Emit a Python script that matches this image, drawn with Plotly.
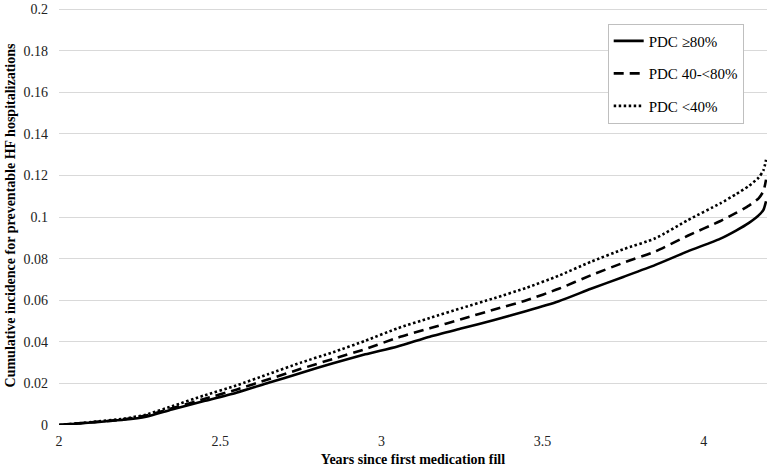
import plotly.graph_objects as go

# Years since first medication fill
years = [2.0, 2.1, 2.2, 2.27, 2.35, 2.45, 2.55, 2.65, 2.75, 2.85, 2.95, 3.05, 3.15,
         3.25, 3.35, 3.45, 3.55, 3.65, 3.75, 3.85, 3.95, 4.05, 4.1, 4.14, 4.17,
         4.185, 4.193]

pdc_high = [0, 0.0012, 0.0025, 0.004, 0.0075, 0.0115, 0.0155, 0.0203, 0.025, 0.0297,
            0.034, 0.0378, 0.0425, 0.0465, 0.0505, 0.0548, 0.0595, 0.0655, 0.0712,
            0.077, 0.0835, 0.0895, 0.0935, 0.0972, 0.1008, 0.1035, 0.1076]

pdc_mid = [0, 0.0013, 0.0027, 0.0045, 0.008, 0.0125, 0.017, 0.022, 0.027, 0.0318,
           0.0365, 0.042, 0.0465, 0.051, 0.0555, 0.060, 0.0655, 0.072, 0.078,
           0.0835, 0.091, 0.098, 0.102, 0.1055, 0.109, 0.1125, 0.118]

pdc_low = [0, 0.0014, 0.003, 0.005, 0.009, 0.0142, 0.019, 0.0245, 0.030, 0.035,
           0.0405, 0.0465, 0.0515, 0.0563, 0.061, 0.066, 0.0718, 0.0785, 0.0845,
           0.0898, 0.0985, 0.1065, 0.111, 0.115, 0.119, 0.1225, 0.1275]

series_names = ["PDC \u226580%", "PDC 40-<80%", "PDC <40%"]

y_tickvals = [0, 0.02, 0.04, 0.06, 0.08, 0.1, 0.12, 0.14, 0.16, 0.18, 0.2]
y_ticktext = ["0", "0.02", "0.04", "0.06", "0.08", "0.1", "0.12", "0.14", "0.16", "0.18", "0.2"]
x_tickvals = [2, 2.5, 3, 3.5, 4]
x_ticktext = ["2", "2.5", "3", "3.5", "4"]

FONT = "Liberation Serif, Times New Roman, serif"

fig = go.Figure()
for name, vals, dash, grp in [
    (series_names[0], pdc_high, "solid", "a"),
    (series_names[1], pdc_mid, "10px,6px", "b"),
    (series_names[2], pdc_low, "2.5px,2.5px", "c"),
]:
    fig.add_trace(go.Scatter(
        x=years, y=vals, mode="lines", name=name, legendgroup=grp,
        line=dict(color="black", width=2.6, dash=dash, shape="spline", smoothing=0.6),
    ))

fig.update_layout(
    width=769, height=467,
    margin=dict(l=59, r=2, t=3, b=40),
    plot_bgcolor="white", paper_bgcolor="white",
    font=dict(family=FONT, size=14, color="black"),
    showlegend=True,
    legend=dict(
        x=0.775, y=0.958, xanchor="left", yanchor="top",
        bordercolor="#bfbfbf", borderwidth=1, bgcolor="white",
        font=dict(family=FONT, size=15, color="black"),
        tracegroupgap=10, entrywidth=118,
    ),
    xaxis=dict(
        range=[2, 4.196], tickvals=x_tickvals, ticktext=x_ticktext,
        showgrid=False, zeroline=False, showline=False,
        ticks="", ticklabelstandoff=6,
        tickfont=dict(family=FONT, size=14, color="#222"),
        title=dict(text="<b>Years since first medication fill</b>",
                   font=dict(family=FONT, size=14, color="black"), standoff=6),
    ),
    yaxis=dict(
        range=[0, 0.2015], tickvals=y_tickvals, ticktext=y_ticktext,
        showgrid=True, gridcolor="#d9d9d9", gridwidth=1,
        zeroline=False, showline=False, ticks="", ticklabelstandoff=10,
        ticklabeloverflow="allow",
        tickfont=dict(family=FONT, size=14, color="#222"),
        title=dict(text="<b>Cumulative incidence for preventable HF hospitalizations</b>",
                   font=dict(family=FONT, size=14, color="black"), standoff=4),
    ),
)

fig.write_html("out.html", config={"displayModeBar": False},
               post_script="document.body.style.margin='0';")
